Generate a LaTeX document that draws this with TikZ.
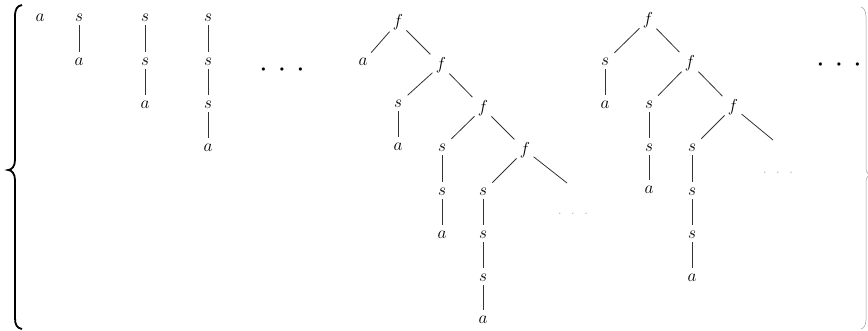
\documentclass[tikz,border=0pt]{standalone}
\begin{document}
\begin{tikzpicture}[x=1pt,y=-1pt,
  lbl/.style={inner sep=2.5pt, font=\fontsize{17}{17}\selectfont},
  edg/.style={draw=black!80, line width=0.8pt, shorten <=1pt, shorten >=4pt},
  bigdots/.style={inner sep=0pt, font=\fontsize{8.5}{8.5}\selectfont},
  smalldots/.style={inner sep=0pt, text=black!45, font=\fontsize{11}{11}\selectfont}]
\useasboundingbox (0,0) rectangle (868,331);
\clip (0,0) rectangle (868,331);
% left brace
\draw[line width=1.8pt] (22,5) .. controls (17,6) and (15,9) .. (15,17) -- (15,160)
  .. controls (15,166) and (12,170) .. (8,170) .. controls (12,170) and (15,174) .. (15,180)
  -- (15,318) .. controls (15,325) and (17,328) .. (22,329);
% right brace (partly cut off)
\draw[line width=0.5pt, black!40] (861,7) .. controls (864,8) and (866,11) .. (866,17) -- (866,168)
  .. controls (866,172) and (868,175) .. (871,175) .. controls (868,175) and (866,178) .. (866,182)
  -- (866,320) .. controls (866,325) and (864,328) .. (861,329);

% column 1
\node[lbl] (c1a) at (40,18) {$a$};
% column 2
\node[lbl] (c2s) at (79,18) {$s$};
\node[lbl] (c2a) at (79,62) {$a$};
\draw[edg] (c2s) -- (c2a);
% column 3
\node[lbl] (c3s1) at (145,18) {$s$};
\node[lbl] (c3s2) at (145,62) {$s$};
\node[lbl] (c3a) at (145,105) {$a$};
\draw[edg] (c3s1) -- (c3s2);
\draw[edg] (c3s2) -- (c3a);
% column 4
\node[lbl] (c4s1) at (208,18) {$s$};
\node[lbl] (c4s2) at (208,62) {$s$};
\node[lbl] (c4s3) at (208,105) {$s$};
\node[lbl] (c4a) at (208,148) {$a$};
\draw[edg] (c4s1) -- (c4s2);
\draw[edg] (c4s2) -- (c4s3);
\draw[edg] (c4s3) -- (c4a);
% big dots
\node[bigdots] (d1) at (282,70) {$\bullet\hspace{1.45em}\bullet\hspace{1.45em}\bullet$};

% tree 1
\node[lbl] (t1f1) at (398,22) {$f$};
\node[lbl] (t1a1) at (363,62) {$a$};
\node[lbl] (t1f2) at (441,65) {$f$};
\node[lbl] (t1s21) at (398,104) {$s$};
\node[lbl] (t1a2) at (398,147) {$a$};
\node[lbl] (t1f3) at (483,108) {$f$};
\node[lbl] (t1s31) at (442,148) {$s$};
\node[lbl] (t1s32) at (442,192) {$s$};
\node[lbl] (t1a3) at (442,235) {$a$};
\node[lbl] (t1f4) at (525,150) {$f$};
\node[lbl] (t1s41) at (483,192) {$s$};
\node[lbl] (t1s42) at (483,235) {$s$};
\node[lbl] (t1s43) at (483,278) {$s$};
\node[lbl] (t1a4) at (483,320) {$a$};
\coordinate (t1end) at (567,183);
\node[smalldots] (t1dots) at (573,214) {$\cdot\hspace{0.7em}\cdot\hspace{0.7em}\cdot$};
\draw[edg] (t1f1) -- (t1a1);
\draw[edg] (t1f1) -- (t1f2);
\draw[edg] (t1f2) -- (t1s21);
\draw[edg] (t1s21) -- (t1a2);
\draw[edg] (t1f2) -- (t1f3);
\draw[edg] (t1f3) -- (t1s31);
\draw[edg] (t1s31) -- (t1s32);
\draw[edg] (t1s32) -- (t1a3);
\draw[edg] (t1f3) -- (t1f4);
\draw[edg] (t1f4) -- (t1s41);
\draw[edg] (t1s41) -- (t1s42);
\draw[edg] (t1s42) -- (t1s43);
\draw[edg] (t1s43) -- (t1a4);
\draw[edg, shorten >=0pt] (t1f4) -- (t1end);

% tree 2
\node[lbl] (t2f1) at (648,20) {$f$};
\node[lbl] (t2s11) at (605,62) {$s$};
\node[lbl] (t2a1) at (605,105) {$a$};
\node[lbl] (t2f2) at (690,63) {$f$};
\node[lbl] (t2s21) at (649,105) {$s$};
\node[lbl] (t2s22) at (649,148) {$s$};
\node[lbl] (t2a2) at (649,190) {$a$};
\node[lbl] (t2f3) at (733,107) {$f$};
\node[lbl] (t2s31) at (692,148) {$s$};
\node[lbl] (t2s32) at (692,192) {$s$};
\node[lbl] (t2s33) at (692,235) {$s$};
\node[lbl] (t2a3) at (692,278) {$a$};
\coordinate (t2end) at (773,140);
\node[smalldots] (t2dots) at (778,173) {$\cdot\hspace{0.7em}\cdot\hspace{0.7em}\cdot$};
\draw[edg] (t2f1) -- (t2s11);
\draw[edg] (t2s11) -- (t2a1);
\draw[edg] (t2f1) -- (t2f2);
\draw[edg] (t2f2) -- (t2s21);
\draw[edg] (t2s21) -- (t2s22);
\draw[edg] (t2s22) -- (t2a2);
\draw[edg] (t2f2) -- (t2f3);
\draw[edg] (t2f3) -- (t2s31);
\draw[edg] (t2s31) -- (t2s32);
\draw[edg] (t2s32) -- (t2s33);
\draw[edg] (t2s33) -- (t2a3);
\draw[edg, shorten >=0pt] (t2f3) -- (t2end);

\node[bigdots] (d2) at (839,65) {$\bullet\hspace{1.45em}\bullet\hspace{1.45em}\bullet$};
\end{tikzpicture}
\end{document}
